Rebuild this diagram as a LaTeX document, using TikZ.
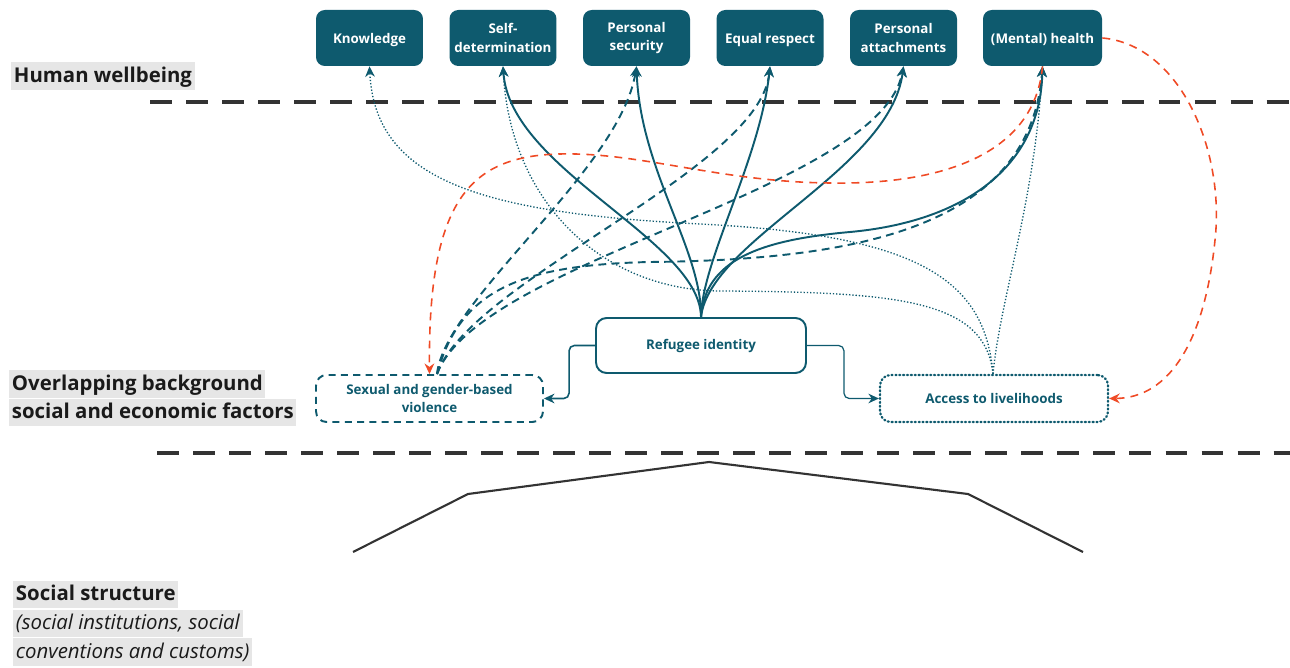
\documentclass[tikz,border=0pt]{standalone}
\usepackage{fontspec}
\setmainfont{Open Sans}
\usetikzlibrary{arrows.meta}
\definecolor{tealc}{HTML}{0E5A6E}
\definecolor{redc}{HTML}{EF4A25}
\definecolor{labelbg}{HTML}{E6E6E6}
\definecolor{sepc}{HTML}{333333}
\definecolor{labtext}{HTML}{1A1A1A}
\tikzset{
  topbox/.style={fill=tealc, draw=none, text=white, rounded corners=5pt, align=center,
    minimum width=2.14cm, minimum height=1.12cm, inner sep=1pt,
    font=\bfseries\fontsize{7.6}{10.4}\selectfont},
  oneline/.style={text depth=0pt},
  midbox/.style={draw=tealc, line width=1.1pt, text=tealc, rounded corners=6pt, align=center,
    inner sep=1pt, font=\bfseries\fontsize{7.6}{10.4}\selectfont},
  sepline/.style={draw=sepc, line width=2.8pt, dash pattern=on 12.5pt off 8pt},
  lab/.style={fill=labelbg, text=labtext, anchor=west, inner xsep=1.5pt, inner ysep=1pt,
    text height=10.5pt, text depth=3.3pt, font=\fontsize{11.6}{13}\selectfont},
  tip/.style={-{Stealth[length=6pt,width=5.5pt]}},
  solidc/.style={draw=tealc, line width=1.1pt, tip},
  dashc/.style={draw=tealc, line width=1.1pt, dash pattern=on 4.5pt off 3pt, tip},
  dotc/.style={draw=tealc, line width=0.75pt, dash pattern=on 0.75pt off 1.1pt, tip},
  redd/.style={draw=redc, line width=0.9pt, dash pattern=on 4.5pt off 3.5pt},
  redtip/.style={-{Stealth[length=6pt,width=5.5pt]}},
  elbow/.style={draw=tealc, line width=0.9pt, rounded corners=3pt, tip},
}
\begin{document}
\begin{tikzpicture}[x=0.02cm, y=-0.02cm]
\useasboundingbox (0,0) rectangle (1290,668);

% separator lines
\coordinate (s1a) at (150,102); \coordinate (s1b) at (1290,102);
\coordinate (s2a) at (157,453); \coordinate (s2b) at (1290,453);
\draw[sepline] (s1a) -- (s1b);
\draw[sepline] (s2a) -- (s2b);

% labels
\node[lab] (lhw) at (11,76) {\bfseries Human wellbeing};
\node[lab] (lo1) at (9,384) {\bfseries Overlapping background};
\node[lab] (lo2) at (9,412.5) {\bfseries social and economic factors};
\node[lab] (ls1) at (13,594.5) {\bfseries Social structure};
\node[lab] (ls2) at (13,623.5) {\itshape (social institutions, social};
\node[lab] (ls3) at (13,652) {\itshape conventions and customs)};

% top boxes
\node[topbox, oneline] (kn) at (369.5,38) {Knowledge};
\node[topbox] (sd) at (503,38) {Self-\\determination};
\node[topbox] (ps) at (636.5,38) {Personal\\security};
\node[topbox, oneline] (er) at (770,38) {Equal respect};
\node[topbox] (pa) at (903.5,38) {Personal\\attachments};
\node[topbox, oneline, minimum width=2.38cm] (mh) at (1042.5,38) {(Mental) health};

% middle boxes
\node[midbox, minimum width=4.2cm, minimum height=1.1cm] (ri) at (701,345.5) {Refugee identity};
\node[midbox, dash pattern=on 4pt off 3pt, minimum width=4.54cm, minimum height=0.94cm] (sg) at (429.5,398.5) {Sexual and gender-based\\violence};
\node[midbox, line width=1.3pt, dash pattern=on 0.6pt off 1.6pt, line cap=round, minimum width=4.56cm, minimum height=0.94cm] (lv) at (994,398.5) {Access to livelihoods};

% elbow connectors
\draw[elbow] (ri.west) -- ++(-26,0) |- (sg.east);
\draw[elbow, line width=0.7pt] (ri.east) -- ++(37,0) |- (lv.west);

% dotted from livelihoods
\coordinate (lvt) at ([xshift=-0.02cm]lv.north);
\draw[dotc] (lvt) .. controls (985,280) and (920,235) .. (700,224) .. controls (480,213) and (375,180) .. (kn.south);
\draw[dotc] (lvt) .. controls (985,300) and (900,292) .. (720,291) .. controls (600,290) and (510,200) .. (sd.south);
\draw[dotc] (lvt) .. controls (1000,300) and (1035,200) .. (mh.south);

% dashed from SGBV
\coordinate (sgt) at ([xshift=0.15cm]sg.north);
\draw[dashc] (sgt) .. controls (445,300) and (620,170) .. (ps.south);
\draw[dashc] (sgt) .. controls (470,280) and (760,170) .. (er.south);
\draw[dashc] (sgt) .. controls (480,260) and (880,190) .. (pa.south);
\draw[dashc] (sgt) .. controls (460,290) and (520,265) .. (650,262) .. controls (850,260) and (1030,230) .. (mh.south);

% solid from refugee identity
\draw[solidc] (ri.north) .. controls (700,240) and (510,170) .. (sd.south);
\draw[solidc] (ri.north) .. controls (702,250) and (640,170) .. (ps.south);
\draw[solidc] (ri.north) .. controls (702,260) and (760,160) .. (er.south);
\draw[solidc] (ri.north) .. controls (710,240) and (890,170) .. (pa.south);
\draw[solidc] (ri.north) .. controls (705,260) and (760,240) .. (850,232) .. controls (960,222) and (1040,170) .. (mh.south);

% red dashed
\draw[redd, redtip] (mh.south) .. controls (1035,150) and (950,185) .. (830,183) .. controls (720,182) and (640,152) .. (560,154) .. controls (470,156) and (428,200) .. (sg.north);
\draw[redd, redtip] (mh.east) .. controls (1180,45) and (1225,150) .. (1215,240) .. controls (1205,340) and (1170,398) .. (lv.east);

% roof
\coordinate (r1) at (353,552); \coordinate (r2) at (468,494); \coordinate (r3) at (709,462);
\coordinate (r4) at (968,494); \coordinate (r5) at (1083,552);
\draw[sepc, line width=1.2pt] (r1) -- (r2) -- (r3) -- (r4) -- (r5);
\end{tikzpicture}
\end{document}
